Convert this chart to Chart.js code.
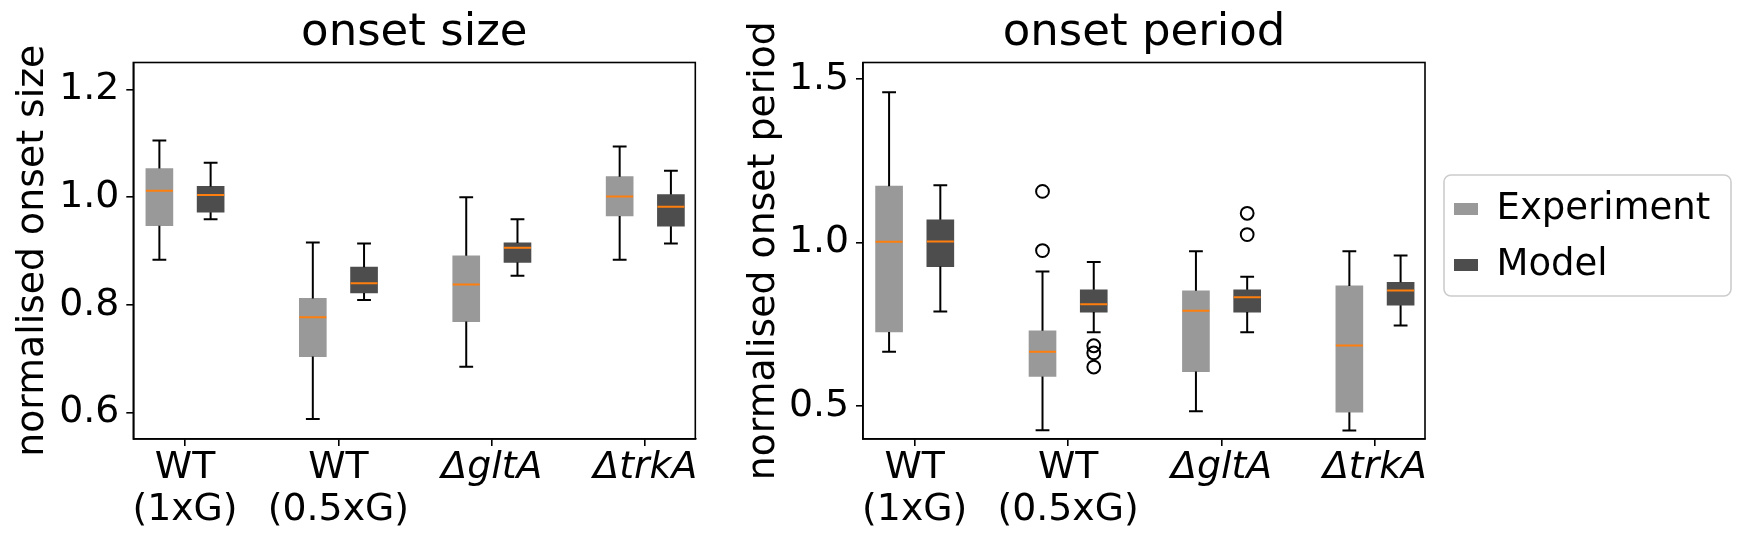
<!DOCTYPE html>
<html>
<head>
<meta charset="utf-8">
<script src="https://cdn.jsdelivr.net/npm/chart.js@4.4.1/dist/chart.umd.min.js"></script>
<style>
html, body { margin: 0; padding: 0; background: #ffffff; }
#wrap { position: relative; width: 1747px; height: 548px; overflow: hidden; background: #ffffff; }
canvas { position: absolute; top: 0; }
#sizeChart { left: 0; }
#periodChart { left: 720px; }
</style>
</head>
<body>
<div id="wrap">
  <canvas id="sizeChart" width="720" height="548"></canvas>
  <canvas id="periodChart" width="1027" height="548"></canvas>
</div>
<script>
// ---------------- DATA ----------------
const categories = [["WT", "(1xG)"], ["WT", "(0.5xG)"], "\u0394gltA", "\u0394trkA"];
const categoryPositions = [1, 2, 3, 4];
const seriesNames = ["Experiment", "Model"];

// onset size — Experiment
const sizeExpLow    = [0.884, 0.588, 0.685, 0.884];
const sizeExpQ1     = [0.947, 0.704, 0.769, 0.965];
const sizeExpMedian = [1.012, 0.777, 0.838, 1.001];
const sizeExpQ3     = [1.053, 0.812, 0.891, 1.038];
const sizeExpHigh   = [1.105, 0.916, 1.000, 1.094];
const sizeExpFliers = [[], [], [], []];
// onset size — Model
const sizeModLow    = [0.959, 0.809, 0.854, 0.914];
const sizeModQ1     = [0.972, 0.822, 0.879, 0.946];
const sizeModMedian = [1.004, 0.840, 0.906, 0.982];
const sizeModQ3     = [1.020, 0.870, 0.915, 1.005];
const sizeModHigh   = [1.064, 0.914, 0.959, 1.049];
const sizeModFliers = [[], [], [], []];

// onset period — Experiment
const periodExpLow    = [0.666, 0.426, 0.484, 0.425];
const periodExpQ1     = [0.726, 0.590, 0.605, 0.481];
const periodExpMedian = [1.002, 0.666, 0.791, 0.685];
const periodExpQ3     = [1.172, 0.730, 0.852, 0.867];
const periodExpHigh   = [1.459, 0.911, 0.973, 0.973];
const periodExpFliers = [[], [1.156, 0.975], [], []];
// onset period — Model
const periodModLow    = [0.789, 0.725, 0.725, 0.746];
const periodModQ1     = [0.926, 0.787, 0.787, 0.808];
const periodModMedian = [1.003, 0.811, 0.832, 0.853];
const periodModQ3     = [1.069, 0.855, 0.855, 0.878];
const periodModHigh   = [1.175, 0.940, 0.895, 0.960];
const periodModFliers = [[], [0.684, 0.662, 0.619], [1.089, 1.024], []];

// tick values
const sizeTicks = [0.6, 0.8, 1.0, 1.2];
const periodTicks = [0.5, 1.0, 1.5];

// ---------------- STYLE / LAYOUT ----------------
const FONT = "'DejaVu Sans', sans-serif";
Chart.defaults.font.family = FONT;
Chart.defaults.color = '#000000';
const EXP_COLOR = '#999999';
const MOD_COLOR = '#4d4d4d';
const MEDIAN_COLOR = '#ff7f0e';
const GROUP_OFFSET = 0.167;
const HALF_BOX = 0.088;
const CAP_HALF = 0.045;
const BOX_PX = 27;
const X_MIN = 0.663, X_MAX = 4.326;
const ITALIC_TICKS = [2, 3];
const LABEL_SIZE = 37.8;
const TITLE_SIZE = 45;

function whiskerPoints(pos, lo, q1, q3, hi) {
  const pts = [];
  pos.forEach((p, i) => {
    pts.push({x: p, y: lo[i]}, {x: p, y: q1[i]}, {x: p, y: null});
    pts.push({x: p, y: q3[i]}, {x: p, y: hi[i]}, {x: p, y: null});
    pts.push({x: p - CAP_HALF, y: lo[i]}, {x: p + CAP_HALF, y: lo[i]}, {x: p, y: null});
    pts.push({x: p - CAP_HALF, y: hi[i]}, {x: p + CAP_HALF, y: hi[i]}, {x: p, y: null});
  });
  return pts;
}
function medianPoints(pos, med) {
  const pts = [];
  pos.forEach((p, i) => {
    pts.push({x: p - HALF_BOX, y: med[i]}, {x: p + HALF_BOX, y: med[i]}, {x: p, y: null});
  });
  return pts;
}
function flierPoints(pos, fl) {
  const pts = [];
  pos.forEach((p, i) => fl[i].forEach(v => pts.push({x: p, y: v})));
  return pts;
}

function seriesDatasets(name, color, offset, lo, q1, med, q3, hi, fliers) {
  const pos = categoryPositions.map(c => c + offset);
  return [
    {
      type: 'bar', label: name, isBox: true,
      data: pos.map((p, i) => ({x: p, y: [q1[i], q3[i]]})),
      backgroundColor: color, borderWidth: 0, barThickness: BOX_PX,
      grouped: false, order: 3
    },
    {
      type: 'line', label: name + ' whiskers',
      data: whiskerPoints(pos, lo, q1, q3, hi),
      borderColor: '#000000', borderWidth: 2, pointRadius: 0, pointHoverRadius: 0,
      spanGaps: false, fill: false, tension: 0, borderCapStyle: 'butt', order: 2
    },
    {
      type: 'line', label: name + ' outliers',
      data: flierPoints(pos, fliers),
      showLine: false, pointStyle: 'circle', pointRadius: 6.4, pointBorderWidth: 2,
      pointBorderColor: '#000000', pointBackgroundColor: 'rgba(0,0,0,0)', order: 1
    },
    {
      type: 'line', label: name + ' median',
      data: medianPoints(pos, med),
      borderColor: MEDIAN_COLOR, borderWidth: 2, pointRadius: 0, pointHoverRadius: 0,
      spanGaps: false, fill: false, tension: 0, borderCapStyle: 'butt', order: 0
    }
  ];
}

const framePlugin = {
  id: 'axesFrame',
  afterDraw(chart) {
    const a = chart.chartArea, ctx = chart.ctx;
    ctx.save();
    ctx.strokeStyle = '#000000';
    ctx.lineWidth = 1.6;
    ctx.strokeRect(a.left, a.top, a.right - a.left, a.bottom - a.top);
    ctx.restore();
  }
};

const legendPlacePlugin = {
  id: 'legendPlace',
  afterLayout(chart, args, opts) {
    const lg = chart.legend;
    if (!lg || !opts.enabled) return;
    const w = lg.width;
    lg.left = opts.left; lg.right = opts.left + w;
    lg.top = opts.top; lg.bottom = opts.top + 220; lg.height = 220;
  },
  afterDraw(chart, args, opts) {
    if (!opts.enabled) return;
    const ctx = chart.ctx;
    ctx.save();
    ctx.strokeStyle = '#cccccc';
    ctx.lineWidth = 1.6;
    ctx.beginPath();
    const f = opts.frame;
    if (ctx.roundRect) ctx.roundRect(f.x, f.y, f.w, f.h, 7); else ctx.rect(f.x, f.y, f.w, f.h);
    ctx.stroke();
    ctx.restore();
  }
};

function makeChart(id, cfg) {
  const datasets = [
    ...seriesDatasets(seriesNames[0], EXP_COLOR, -GROUP_OFFSET, ...cfg.exp, cfg.expFliers),
    ...seriesDatasets(seriesNames[1], MOD_COLOR, GROUP_OFFSET, ...cfg.mod, cfg.modFliers)
  ];
  return new Chart(document.getElementById(id), {
    type: 'bar',
    data: {datasets},
    plugins: [framePlugin, legendPlacePlugin],
    options: {
      responsive: false, animation: false, events: [],
      layout: {padding: {left: 0, right: cfg.padRight, top: 0, bottom: 0}},
      plugins: {
        tooltip: {enabled: false},
        title: {
          display: true, text: cfg.title, fullSize: false, color: '#000000',
          font: {size: TITLE_SIZE, weight: 'normal'}, padding: {top: 6.2, bottom: 2.3}
        },
        legend: {
          display: cfg.legend, position: 'chartArea', align: 'start',
          labels: {
            boxWidth: 24, boxHeight: 12, padding: 19, color: '#000000',
            font: {size: 37},
            filter: (item, data) => data.datasets[item.datasetIndex].isBox === true
          }
        },
        legendPlace: {enabled: cfg.legend, left: 715, top: 171.5,
                      frame: {x: 724, y: 175, w: 287, h: 121}}
      },
      scales: {
        x: {
          type: 'linear', min: X_MIN, max: X_MAX, offset: false,
          afterBuildTicks: s => { s.ticks = categoryPositions.map(v => ({value: v})); },
          afterFit: s => { s.height = 109; },
          ticks: {
            color: '#000000', padding: 1.2, maxRotation: 0, minRotation: 0, autoSkip: false,
            font: ctx => ({size: LABEL_SIZE, lineHeight: 1.11,
                           style: ITALIC_TICKS.includes(ctx.index) ? 'italic' : 'normal'}),
            callback: (v, i) => categories[i]
          },
          grid: {display: true, drawOnChartArea: false, drawTicks: true, tickLength: 7,
                 color: '#000000', lineWidth: 1.6, offset: false},
          border: {display: true, color: '#000000', width: 1.6}
        },
        y: {
          type: 'linear', min: cfg.yMin, max: cfg.yMax,
          afterBuildTicks: s => { s.ticks = cfg.yTicks.map(v => ({value: v})); },
          afterFit: s => { s.width = cfg.yWidth; },
          ticks: {color: '#000000', padding: 7, font: {size: LABEL_SIZE},
                  callback: v => Number(v).toFixed(1)},
          grid: {display: true, drawOnChartArea: false, drawTicks: true, tickLength: 7,
                 color: '#000000', lineWidth: 1.6},
          border: {display: true, color: '#000000', width: 1.6},
          title: {display: true, text: cfg.yTitle, color: '#000000', font: {size: LABEL_SIZE},
                  padding: {top: cfg.yTitlePad, bottom: 0}}
        }
      }
    }
  });
}

makeChart('sizeChart', {
  title: 'onset size', yTitle: 'normalised onset size',
  yMin: 0.551, yMax: 1.25, yTicks: sizeTicks, yWidth: 133.3, yTitlePad: 10.2,
  padRight: 24.7, legend: false,
  exp: [sizeExpLow, sizeExpQ1, sizeExpMedian, sizeExpQ3, sizeExpHigh], expFliers: sizeExpFliers,
  mod: [sizeModLow, sizeModQ1, sizeModMedian, sizeModQ3, sizeModHigh], modFliers: sizeModFliers
});
makeChart('periodChart', {
  title: 'onset period', yTitle: 'normalised onset period',
  yMin: 0.399, yMax: 1.55, yTicks: periodTicks, yWidth: 143, yTitlePad: 21.2,
  padRight: 322, legend: true,
  exp: [periodExpLow, periodExpQ1, periodExpMedian, periodExpQ3, periodExpHigh], expFliers: periodExpFliers,
  mod: [periodModLow, periodModQ1, periodModMedian, periodModQ3, periodModHigh], modFliers: periodModFliers
});
</script>
</body>
</html>
